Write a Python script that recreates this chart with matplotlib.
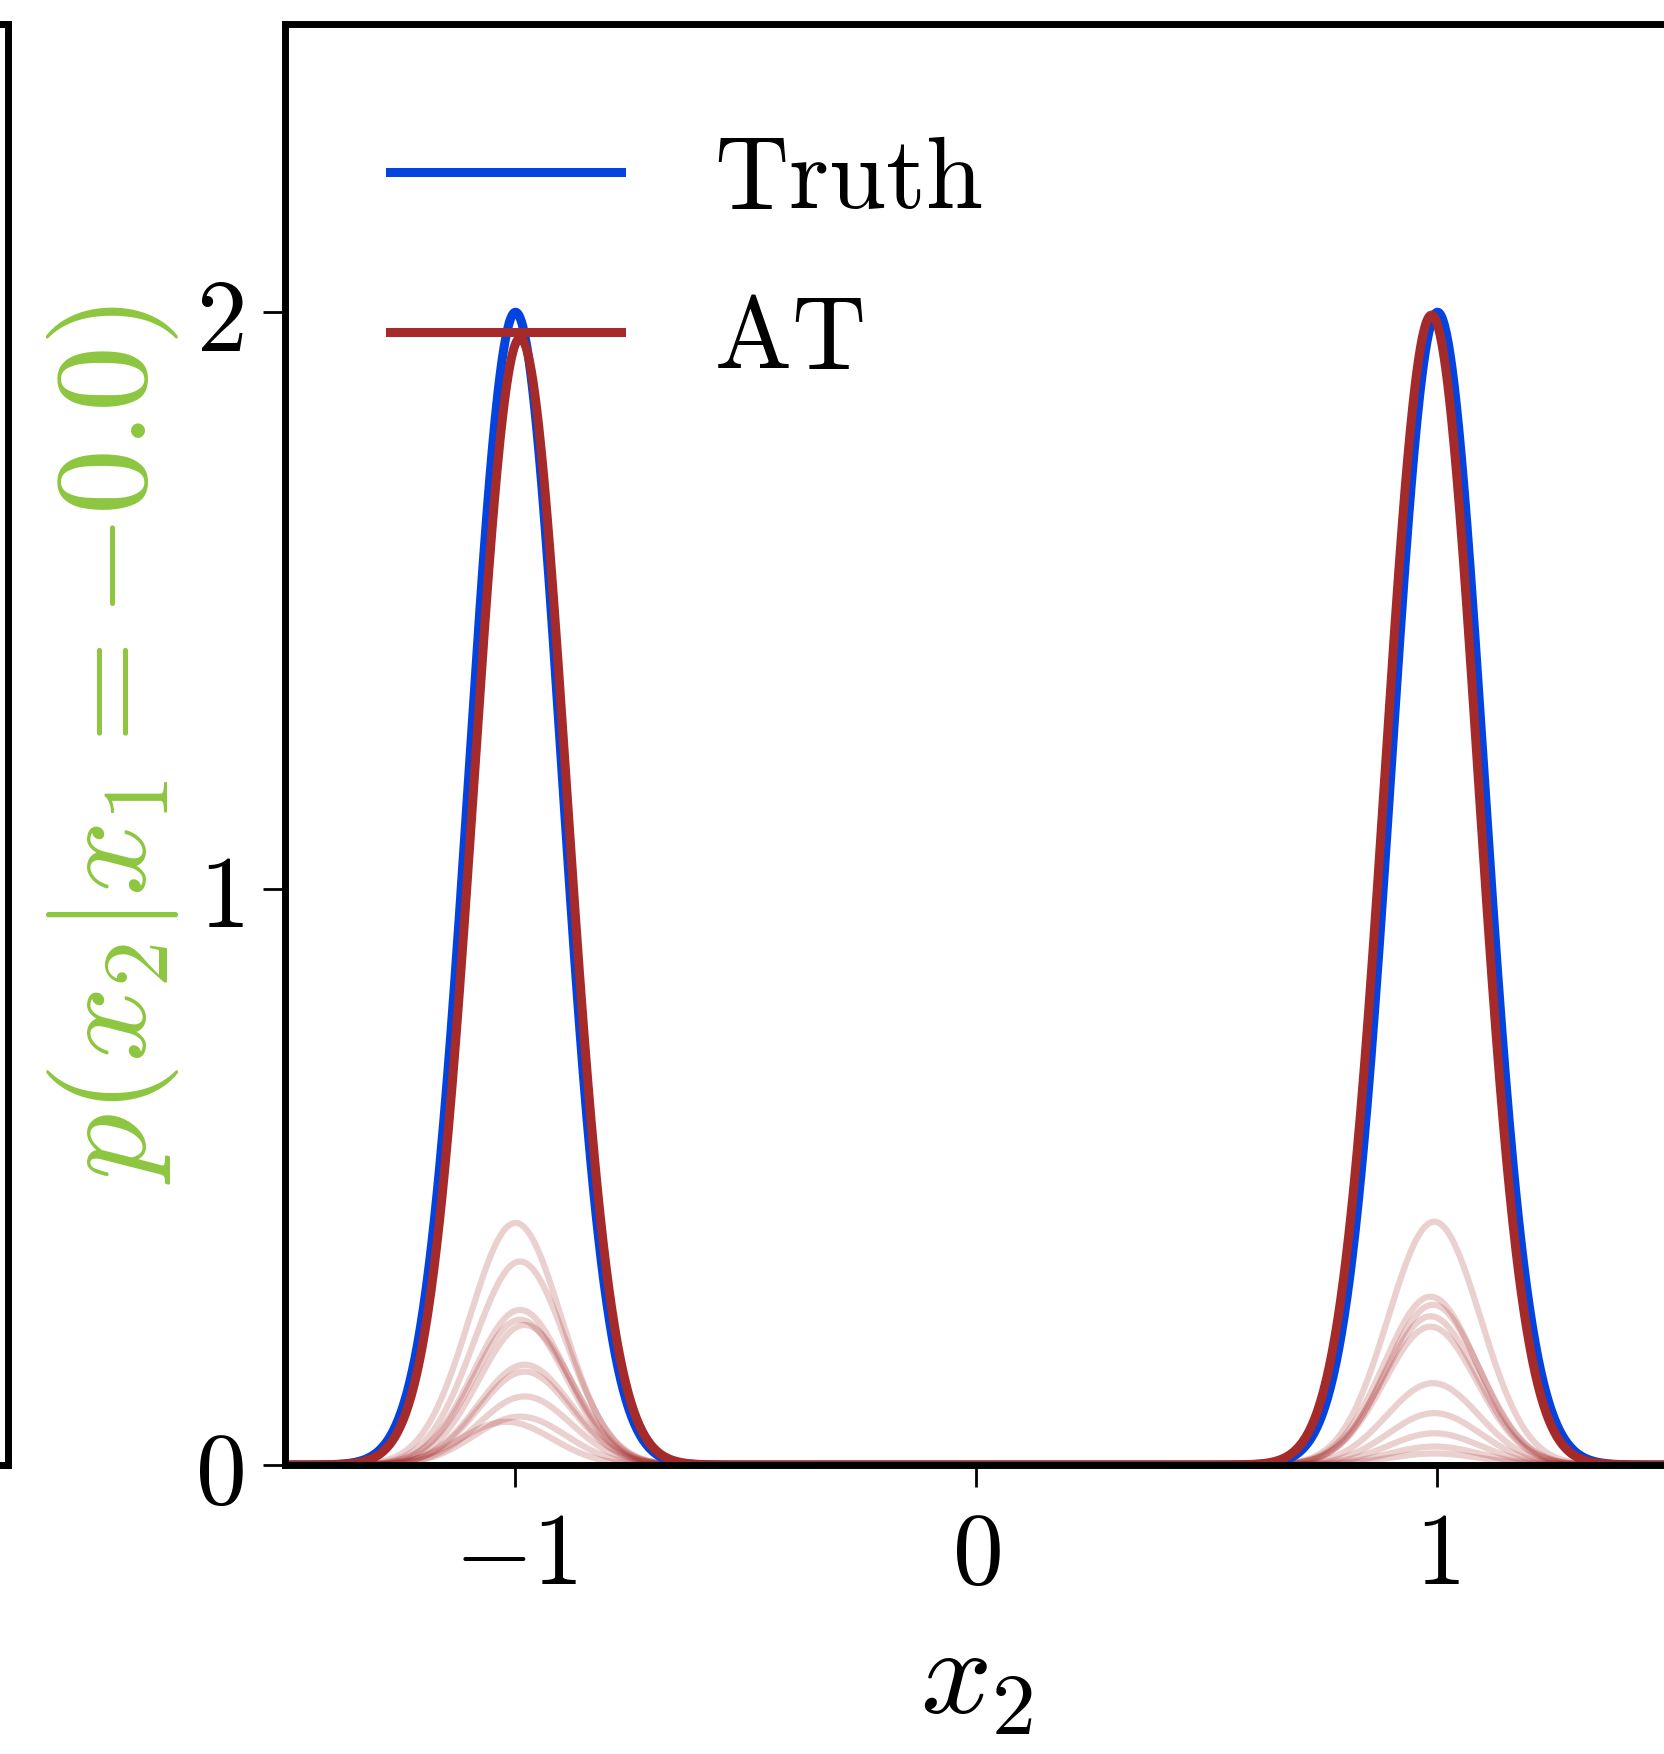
import numpy as np
import matplotlib
matplotlib.use("Agg")
import matplotlib.pyplot as plt

plt.rcParams['mathtext.fontset'] = 'cm'

# values: each curve is a pair of bumps (at x2=-1 and x2=+1)
truth_centers = [-1.0, 1.0]
truth_heights = [2.0, 2.0]
truth_width = 0.1

at_centers = [-0.99, 0.987]
at_heights = [1.955, 1.995]
at_width = 0.1

# faint intermediate AT curves (left bump height, right bump height)
iter_left = [0.42, 0.353, 0.269, 0.252, 0.243, 0.174, 0.162, 0.119, 0.084, 0.075]
iter_right = [0.422, 0.292, 0.278, 0.258, 0.240, 0.142, 0.090, 0.055, 0.032, 0.02]
iter_left_center = [-1.0, -0.99, -0.99, -0.99, -0.98, -0.98, -0.98, -0.98, -0.99, -1.02]
iter_right_center = [0.993, 0.985, 0.99, 0.985, 0.985, 0.99, 0.993, 0.993, 0.993, 0.993]
iter_width = 0.1

xticks = [-1, 0, 1]
xticklabels = [r'$-1$', r'$0$', r'$1$']
yticks = [0, 1, 2]
yticklabels = [r'$0$', r'$1$', r'$2$']


def bumps(x, centers, heights, width):
    y = np.zeros_like(x)
    for c, h in zip(centers, heights):
        y += h * np.exp(-0.5 * ((x - c) / width) ** 2)
    return y


x = np.linspace(-1.5, 1.5, 1500)

fig = plt.figure(figsize=(16.65, 17.54), dpi=100)
W, H = 1665, 1754

# right edge of neighbouring panel
ax0 = fig.add_axes([(8 - 600) / W, (H - 1465) / H, 600 / W, (1465 - 24) / H])
ax0.set_xticks([])
ax0.set_yticks([])
for s in ax0.spines.values():
    s.set_linewidth(5)

ax = fig.add_axes([285 / W, (H - 1465) / H, (1668 - 285) / W, (1465 - 24) / H])

for hl, hr, cl, cr in zip(iter_left, iter_right, iter_left_center, iter_right_center):
    ax.plot(x, bumps(x, [cl, cr], [hl, hr], iter_width), color='#a52a2a', alpha=0.22, lw=4.5)

ax.plot(x, bumps(x, truth_centers, truth_heights, truth_width), color='#0343df', lw=6.5, label=r'$\mathrm{Truth}$')
ax.plot(x, bumps(x, at_centers, at_heights, at_width), color='#a52a2a', lw=6.5, label=r'$\mathrm{AT}$')

ax.set_xlim(-1.5, 1.5)
ax.set_ylim(0, 2.5)
ax.set_xticks(xticks)
ax.set_xticklabels(xticklabels)
ax.set_yticks(yticks)
ax.set_yticklabels(yticklabels)
ax.tick_params(labelsize=73, length=16, width=2, pad=14)
for s in ax.spines.values():
    s.set_linewidth(5)

ax.set_xlabel(r'$x_2$', fontsize=90, labelpad=10)
ax.set_ylabel(r'$p(x_2|x_1=-0.0)$', fontsize=95, color='#8dc63f', labelpad=10)

ax.legend(loc='upper left', fontsize=74, frameon=False, handlelength=2.25,
          handletextpad=0.9, labelspacing=0.58, borderaxespad=0.62)

fig.savefig('out.png', dpi=100)
